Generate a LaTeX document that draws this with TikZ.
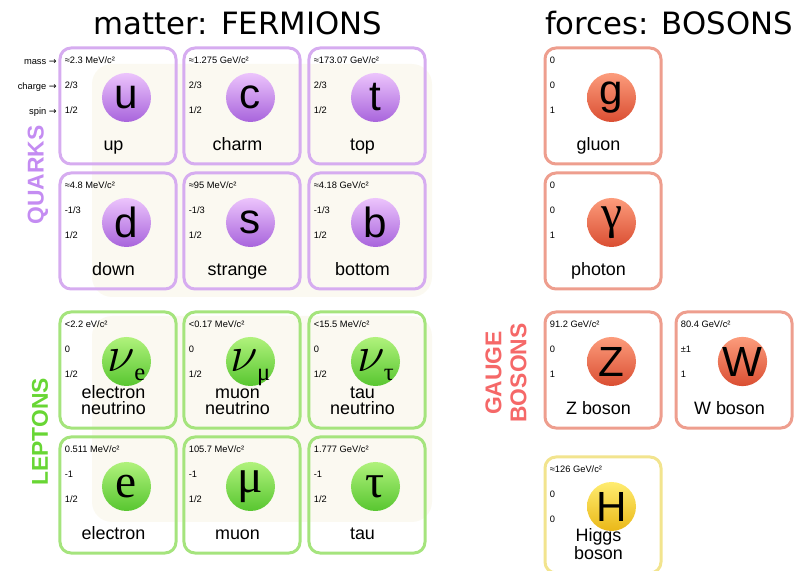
\documentclass[tikz,border=0pt]{standalone}
\usepackage{graphicx}
\usepackage{fontspec}
\setmainfont{Liberation Sans}
\newfontfamily\titlefont{DejaVu Sans}
\newfontfamily\seriffont{Liberation Serif}
\usetikzlibrary{calc}

\definecolor{cream}{RGB}{251,249,241}
\definecolor{quarkedge}{RGB}{214,172,240}
\definecolor{quarklight}{RGB}{236,196,252}
\definecolor{quarkdark}{RGB}{168,100,220}
\definecolor{quarktext}{RGB}{196,140,242}
\definecolor{leptonedge}{RGB}{165,228,125}
\definecolor{leptonlight}{RGB}{176,242,124}
\definecolor{leptondark}{RGB}{88,198,48}
\definecolor{leptontext}{RGB}{104,214,52}
\definecolor{gaugeedge}{RGB}{238,158,142}
\definecolor{gaugelight}{RGB}{252,156,124}
\definecolor{gaugedark}{RGB}{218,78,50}
\definecolor{gaugetext}{RGB}{245,104,104}
\definecolor{higgsedge}{RGB}{242,228,142}
\definecolor{higgslight}{RGB}{255,236,112}
\definecolor{higgsdark}{RGB}{234,184,24}

% one cell: name, left, top, family, symbol, mass, charge, spin, label
\newcommand{\particle}[9]{%
  \node[cell, #4line] (#1) at (#2+58, #3+58) {};
  \node[small] (#1-mass)   at ($(#1.north west)+(6,14)$) {#6};
  \node[small] (#1-charge) at ($(#1.north west)+(6,39)$) {#7};
  \node[small] (#1-spin)   at ($(#1.north west)+(6,64)$) {#8};
  \node[ball, #4ball] (#1-ball) at ($(#1.north west)+(68,51)$) {#5};
  \node[pname] (#1-name) at ($(#1.north west)+(55,109)$) {#9};
}
% serif glyphs inside the balls
\newcommand{\bigserif}[1]{{\seriffont\fontsize{27}{27}\selectfont #1}}
\newcommand{\nusub}[1]{\raisebox{0.1ex}{\scalebox{1.15}{$\nu$}}%
  \kern-0.5pt\raisebox{-0.3ex}[0pt][0pt]{\seriffont\fontsize{14}{14}\selectfont #1}}

\begin{document}
\begin{tikzpicture}[x=0.2mm, y=-0.2mm,
    cell/.style={draw, rounded corners=2.2mm, line width=0.6mm,
      minimum width=23.2mm, minimum height=23.2mm, inner sep=0pt},
    small/.style={anchor=west, inner sep=0pt, font=\fontsize{5.3}{6}\selectfont},
    ball/.style={circle, minimum size=9.8mm, inner sep=0pt, shading angle=45,
      font=\fontsize{24}{24}\selectfont},
    pname/.style={anchor=south, inner sep=0pt, align=center, text depth=0.25em,
      font=\fontsize{10.2}{9.2}\selectfont},
    title/.style={anchor=base, inner sep=0pt, font=\titlefont\fontsize{17.5}{18}\selectfont},
    group/.style={rotate=90, inner sep=0pt, align=center,
      font=\bfseries\fontsize{13}{14.2}\selectfont},
    quarkline/.style={draw=quarkedge},
    quarkball/.style={top color=quarklight, bottom color=quarkdark},
    leptonline/.style={draw=leptonedge},
    leptonball/.style={top color=leptonlight, bottom color=leptondark},
    gaugeline/.style={draw=gaugeedge},
    gaugeball/.style={top color=gaugelight, bottom color=gaugedark},
    higgsline/.style={draw=higgsedge},
    higgsball/.style={top color=higgslight, bottom color=higgsdark}]

  \useasboundingbox (0,0) rectangle (797,571);
  \clip (0,0) rectangle (797,571);

  % faint backing behind the fermion blocks
  \fill[cream, rounded corners=4mm] (92,64) rectangle (432,297);
  \fill[cream, rounded corners=4mm] (92,316) rectangle (432,522);

  % titles
  \node[title] (fermions) at (238,35) {matter: FERMIONS};
  \node[title] (bosons) at (669,35) {forces: BOSONS};

  % row keys
  \node[small, anchor=east] (key-mass)   at (57,62)  {mass {\titlefont →}};
  \node[small, anchor=east] (key-charge) at (57,87)  {charge {\titlefont →}};
  \node[small, anchor=east] (key-spin)   at (57,112) {spin {\titlefont →}};

  % quarks
  \particle{u}{60}{48}{quark}{u}{≈2.3 MeV/c²}{2/3}{1/2}{up}
  \particle{c}{184}{48}{quark}{c}{≈1.275 GeV/c²}{2/3}{1/2}{charm}
  \particle{t}{309}{48}{quark}{t}{≈173.07 GeV/c²}{2/3}{1/2}{top}
  \particle{d}{60}{173}{quark}{d}{≈4.8 MeV/c²}{-1/3}{1/2}{down}
  \particle{s}{184}{173}{quark}{s}{≈95 MeV/c²}{-1/3}{1/2}{strange}
  \particle{b}{309}{173}{quark}{b}{≈4.18 GeV/c²}{-1/3}{1/2}{bottom}

  % leptons
  \particle{nue}{60}{312}{lepton}{\nusub{e}}{<2.2 eV/c²}{0}{1/2}{electron\\neutrino}
  \particle{numu}{184}{312}{lepton}{\nusub{μ}}{<0.17 MeV/c²}{0}{1/2}{muon\\neutrino}
  \particle{nutau}{309}{312}{lepton}{\nusub{τ}}{<15.5 MeV/c²}{0}{1/2}{tau\\neutrino}
  \particle{e}{60}{437}{lepton}{\bigserif{e}}{0.511 MeV/c²}{-1}{1/2}{electron}
  \particle{mu}{184}{437}{lepton}{\bigserif{μ}}{105.7 MeV/c²}{-1}{1/2}{muon}
  \particle{tau}{309}{437}{lepton}{\bigserif{τ}}{1.777 GeV/c²}{-1}{1/2}{tau}

  % bosons
  \particle{g}{545}{48}{gauge}{g}{0}{0}{1}{gluon}
  \particle{gamma}{545}{173}{gauge}{\bigserif{γ}}{0}{0}{1}{photon}
  \particle{Z}{545}{312}{gauge}{Z}{91.2 GeV/c²}{0}{1}{Z boson}
  \particle{W}{676}{312}{gauge}{W}{80.4 GeV/c²}{±1}{1}{W boson}
  \particle{H}{545}{457}{higgs}{H}{≈126 GeV/c²}{0}{0}{Higgs\\boson}

  % group labels
  \node[group, text=quarktext] (quarks) at (38,175) {QUARKS};
  \node[group, text=leptontext] (leptons) at (40,432) {LEPTONS};
  \node[group, text=gaugetext] (gauge) at (506,373) {GAUGE\\BOSONS};

\end{tikzpicture}
\end{document}
